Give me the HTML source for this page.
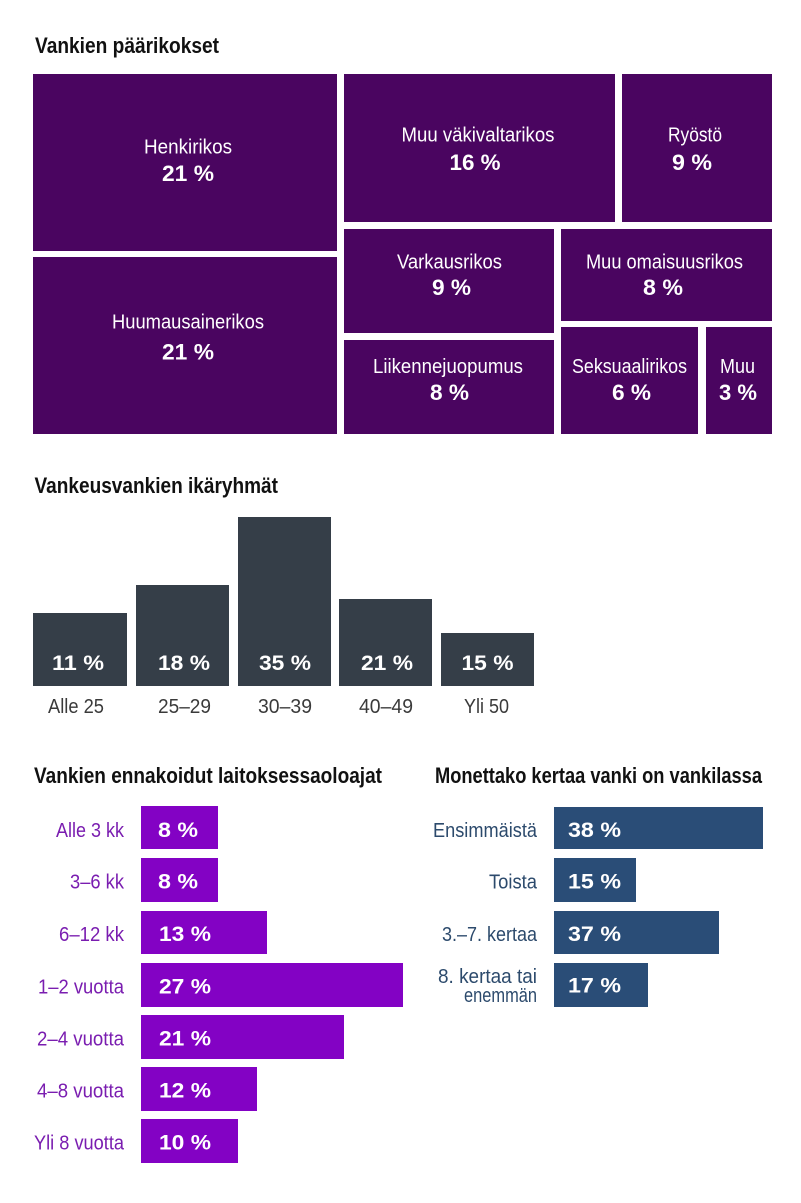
<!DOCTYPE html>
<html>
<head>
<meta charset="utf-8">
<style>
html,body{margin:0;padding:0;background:#fff;}
svg{display:block;}
text{font-family:"Liberation Sans",sans-serif;}
.t{font-weight:bold;font-size:22px;fill:#111;}
.tl{font-size:20px;fill:#fff;}
.tv{font-size:22px;font-weight:bold;fill:#fff;}
.av{font-size:21px;font-weight:bold;fill:#fff;}
.al{font-size:20px;fill:#3a3a3a;}
.pl{font-size:20px;fill:#7a1db0;}
.bl{font-size:20px;fill:#2c4a6c;}
</style>
</head>
<body>
<svg width="801" height="1203" viewBox="0 0 801 1203" xmlns="http://www.w3.org/2000/svg">
<rect width="801" height="1203" fill="#fff"/>

<text class="t" x="35" y="53" textLength="184" lengthAdjust="spacingAndGlyphs">Vankien päärikokset</text>

<g fill="#4a0560">
<rect x="33" y="74" width="304" height="177"/>
<rect x="33" y="257" width="304" height="177"/>
<rect x="344" y="74" width="271" height="148"/>
<rect x="622" y="74" width="150" height="148"/>
<rect x="344" y="229" width="210" height="104"/>
<rect x="344" y="340" width="210" height="94"/>
<rect x="561" y="229" width="211" height="92"/>
<rect x="561" y="327" width="137" height="107"/>
<rect x="706" y="327" width="66" height="107"/>
</g>

<text class="tl" x="188" y="153.5" text-anchor="middle" textLength="88" lengthAdjust="spacingAndGlyphs">Henkirikos</text>
<text class="tv" x="188" y="181" text-anchor="middle" textLength="52" lengthAdjust="spacingAndGlyphs">21 %</text>

<text class="tl" x="188" y="328.5" text-anchor="middle" textLength="152" lengthAdjust="spacingAndGlyphs">Huumausainerikos</text>
<text class="tv" x="188" y="359.5" text-anchor="middle" textLength="52" lengthAdjust="spacingAndGlyphs">21 %</text>

<text class="tl" x="478" y="141.5" text-anchor="middle" textLength="153" lengthAdjust="spacingAndGlyphs">Muu väkivaltarikos</text>
<text class="tv" x="475" y="170" text-anchor="middle" textLength="51" lengthAdjust="spacingAndGlyphs">16 %</text>

<text class="tl" x="695" y="141.5" text-anchor="middle" textLength="54" lengthAdjust="spacingAndGlyphs">Ryöstö</text>
<text class="tv" x="692" y="170" text-anchor="middle" textLength="40" lengthAdjust="spacingAndGlyphs">9 %</text>

<text class="tl" x="449.5" y="268.5" text-anchor="middle" textLength="105" lengthAdjust="spacingAndGlyphs">Varkausrikos</text>
<text class="tv" x="451.5" y="295" text-anchor="middle" textLength="39" lengthAdjust="spacingAndGlyphs">9 %</text>

<text class="tl" x="664.5" y="268.5" text-anchor="middle" textLength="157" lengthAdjust="spacingAndGlyphs">Muu omaisuusrikos</text>
<text class="tv" x="663" y="295" text-anchor="middle" textLength="40" lengthAdjust="spacingAndGlyphs">8 %</text>

<text class="tl" x="448" y="373" text-anchor="middle" textLength="150" lengthAdjust="spacingAndGlyphs">Liikennejuopumus</text>
<text class="tv" x="449.5" y="400" text-anchor="middle" textLength="39" lengthAdjust="spacingAndGlyphs">8 %</text>

<text class="tl" x="629.5" y="373" text-anchor="middle" textLength="115" lengthAdjust="spacingAndGlyphs">Seksuaalirikos</text>
<text class="tv" x="631.5" y="400" text-anchor="middle" textLength="39" lengthAdjust="spacingAndGlyphs">6 %</text>

<text class="tl" x="737.5" y="373" text-anchor="middle" textLength="35" lengthAdjust="spacingAndGlyphs">Muu</text>
<text class="tv" x="738" y="400" text-anchor="middle" textLength="38" lengthAdjust="spacingAndGlyphs">3 %</text>

<text class="t" x="34.5" y="493" textLength="243.5" lengthAdjust="spacingAndGlyphs">Vankeusvankien ikäryhmät</text>

<g fill="#353e48">
<rect x="33" y="613" width="94" height="73"/>
<rect x="136" y="585" width="93" height="101"/>
<rect x="238" y="517" width="93" height="169"/>
<rect x="339" y="599" width="93" height="87"/>
<rect x="441" y="633" width="93" height="53"/>
</g>
<text class="av" x="78" y="670" text-anchor="middle" textLength="52" lengthAdjust="spacingAndGlyphs">11 %</text>
<text class="av" x="184" y="670" text-anchor="middle" textLength="52" lengthAdjust="spacingAndGlyphs">18 %</text>
<text class="av" x="285" y="670" text-anchor="middle" textLength="52" lengthAdjust="spacingAndGlyphs">35 %</text>
<text class="av" x="387" y="670" text-anchor="middle" textLength="52" lengthAdjust="spacingAndGlyphs">21 %</text>
<text class="av" x="487.5" y="670" text-anchor="middle" textLength="52" lengthAdjust="spacingAndGlyphs">15 %</text>

<text class="al" x="76" y="713" text-anchor="middle" textLength="56" lengthAdjust="spacingAndGlyphs">Alle 25</text>
<text class="al" x="184.5" y="713" text-anchor="middle" textLength="53" lengthAdjust="spacingAndGlyphs">25–29</text>
<text class="al" x="285" y="713" text-anchor="middle" textLength="54" lengthAdjust="spacingAndGlyphs">30–39</text>
<text class="al" x="386" y="713" text-anchor="middle" textLength="54" lengthAdjust="spacingAndGlyphs">40–49</text>
<text class="al" x="486.5" y="713" text-anchor="middle" textLength="45" lengthAdjust="spacingAndGlyphs">Yli 50</text>

<text class="t" x="34" y="783" textLength="348" lengthAdjust="spacingAndGlyphs">Vankien ennakoidut laitoksessaoloajat</text>

<g fill="#8302c4">
<rect x="141" y="806" width="77" height="43"/>
<rect x="141" y="858" width="77" height="44"/>
<rect x="141" y="911" width="126" height="43"/>
<rect x="141" y="963" width="262" height="44"/>
<rect x="141" y="1015" width="203" height="44"/>
<rect x="141" y="1067" width="116" height="44"/>
<rect x="141" y="1119" width="97" height="44"/>
</g>
<text class="pl" x="124" y="837" text-anchor="end" textLength="68" lengthAdjust="spacingAndGlyphs">Alle 3 kk</text>
<text class="pl" x="124" y="888.5" text-anchor="end" textLength="54" lengthAdjust="spacingAndGlyphs">3–6 kk</text>
<text class="pl" x="124" y="941" text-anchor="end" textLength="65" lengthAdjust="spacingAndGlyphs">6–12 kk</text>
<text class="pl" x="124" y="993.5" text-anchor="end" textLength="86" lengthAdjust="spacingAndGlyphs">1–2 vuotta</text>
<text class="pl" x="124" y="1045.5" text-anchor="end" textLength="87" lengthAdjust="spacingAndGlyphs">2–4 vuotta</text>
<text class="pl" x="124" y="1097.5" text-anchor="end" textLength="87" lengthAdjust="spacingAndGlyphs">4–8 vuotta</text>
<text class="pl" x="124" y="1149.5" text-anchor="end" textLength="90" lengthAdjust="spacingAndGlyphs">Yli 8 vuotta</text>

<text class="av" x="158" y="837" textLength="40" lengthAdjust="spacingAndGlyphs">8 %</text>
<text class="av" x="158" y="888.5" textLength="40" lengthAdjust="spacingAndGlyphs">8 %</text>
<text class="av" x="159" y="941" textLength="52" lengthAdjust="spacingAndGlyphs">13 %</text>
<text class="av" x="159" y="993.5" textLength="52" lengthAdjust="spacingAndGlyphs">27 %</text>
<text class="av" x="159" y="1045.5" textLength="52" lengthAdjust="spacingAndGlyphs">21 %</text>
<text class="av" x="159" y="1097.5" textLength="52" lengthAdjust="spacingAndGlyphs">12 %</text>
<text class="av" x="159" y="1149.5" textLength="52" lengthAdjust="spacingAndGlyphs">10 %</text>

<text class="t" x="435" y="783" textLength="327" lengthAdjust="spacingAndGlyphs">Monettako kertaa vanki on vankilassa</text>

<g fill="#2a4d77">
<rect x="554" y="807" width="209" height="42"/>
<rect x="554" y="858" width="82" height="44"/>
<rect x="554" y="911" width="165" height="43"/>
<rect x="554" y="963" width="94" height="44"/>
</g>
<text class="bl" x="537" y="837" text-anchor="end" textLength="104" lengthAdjust="spacingAndGlyphs">Ensimmäistä</text>
<text class="bl" x="537" y="888.5" text-anchor="end" textLength="48" lengthAdjust="spacingAndGlyphs">Toista</text>
<text class="bl" x="537" y="941" text-anchor="end" textLength="95" lengthAdjust="spacingAndGlyphs">3.–7. kertaa</text>
<text class="bl" x="537" y="983" text-anchor="end" textLength="99" lengthAdjust="spacingAndGlyphs">8. kertaa tai</text>
<text class="bl" x="537" y="1002" text-anchor="end" textLength="73" lengthAdjust="spacingAndGlyphs">enemmän</text>

<text class="av" x="568" y="837" textLength="53" lengthAdjust="spacingAndGlyphs">38 %</text>
<text class="av" x="568" y="888.5" textLength="53" lengthAdjust="spacingAndGlyphs">15 %</text>
<text class="av" x="568" y="941" textLength="53" lengthAdjust="spacingAndGlyphs">37 %</text>
<text class="av" x="568" y="992.5" textLength="53" lengthAdjust="spacingAndGlyphs">17 %</text>
</svg>
</body>
</html>
